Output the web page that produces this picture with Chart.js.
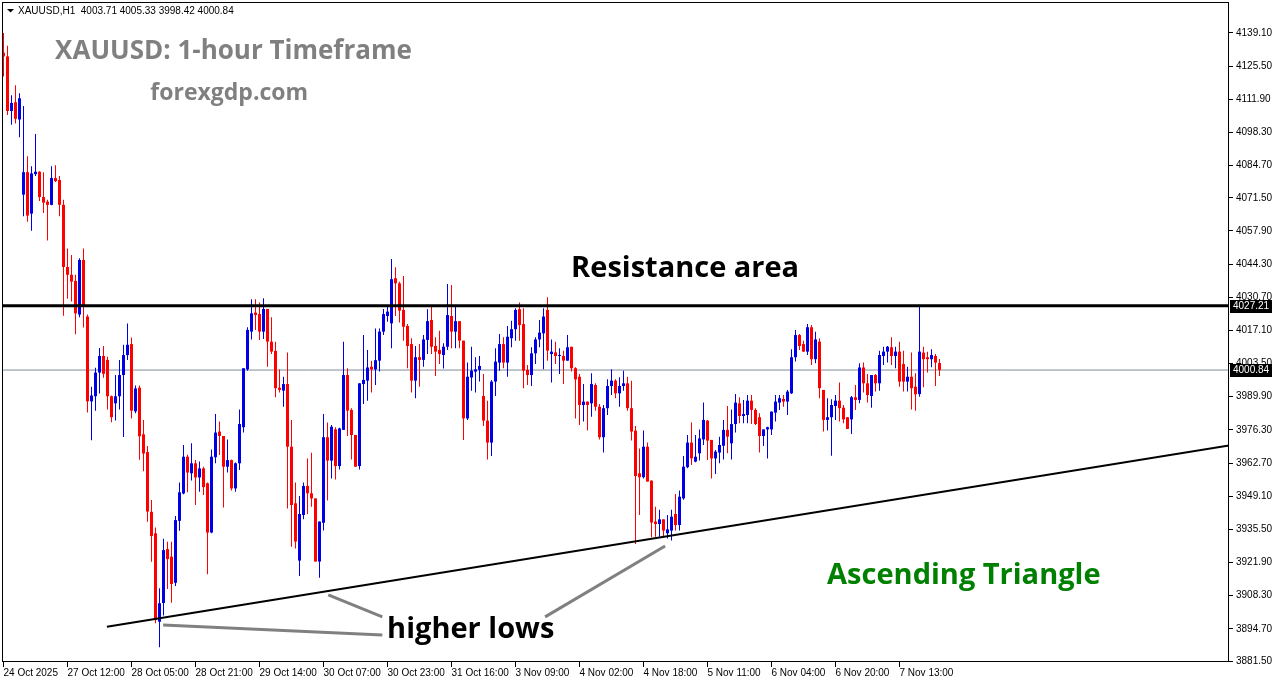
<!DOCTYPE html>
<html>
<head>
<meta charset="utf-8">
<title>XAUUSD H1 - Ascending Triangle</title>
<script src="https://cdn.jsdelivr.net/npm/chart.js@4.4.1/dist/chart.umd.min.js"></script>
<style>
  html, body { margin: 0; padding: 0; background: #fff; }
  canvas { display: block; }
</style>
</head>
<body>
<canvas id="chart" width="1276" height="684"></canvas>
<script>
const symbol = "XAUUSD,H1";

// hourly candles
const opens = [
  4131.0, 4129.5, 4107.1, 4110.7, 4103.6, 4072.8, 4082.0, 4065.0, 4081.2, 4082.2,
  4071.8, 4069.9, 4068.6, 4079.6, 4078.8, 4068.6, 4043.1, 4039.9, 4037.4, 4023.6,
  4046.0, 4022.8, 3988.0, 3990.1, 3999.8, 4006.6, 4005.0, 3990.1, 3987.2, 3990.1,
  3998.8, 4007.0, 4011.5, 3983.9, 3993.6, 3974.5, 3967.2, 3942.7, 3933.9, 3897.6,
  3905.3, 3927.4, 3924.3, 3913.6, 3939.0, 3950.2, 3965.3, 3958.5, 3962.6, 3956.8,
  3960.5, 3954.4, 3934.2, 3965.1, 3975.6, 3973.8, 3961.2, 3963.9, 3952.3, 3962.6,
  3977.4, 4001.1, 4016.6, 4024.4, 4023.8, 4016.6, 4025.9, 4012.5, 4008.7, 3993.6,
  3992.4, 3995.1, 3969.4, 3946.2, 3922.7, 3941.4, 3953.3, 3950.3, 3948.2, 3922.3,
  3938.2, 3973.3, 3963.7, 3976.5, 3961.5, 3976.3, 3998.8, 3984.5, 3974.2, 3961.5,
  3995.1, 3996.5, 4002.2, 4001.1, 4004.7, 4016.6, 4023.0, 4020.0, 4038.5, 4036.4,
  4025.5, 4018.9, 4011.5, 3996.5, 4006.1, 4005.0, 4013.2, 4021.4, 4010.7, 4009.1,
  4007.0, 4010.4, 4023.0, 4016.6, 4020.9, 4012.9, 3981.0, 3997.8, 4000.2, 4000.9,
  3990.2, 3980.1, 3971.1, 3996.1, 4003.9, 4011.5, 4003.9, 4013.9, 4017.6, 4025.8,
  4019.7, 4000.9, 3998.8, 4007.7, 4013.4, 4015.9, 4025.5, 4007.4, 4008.1, 4006.6,
  4006.6, 4004.7, 4010.4, 4001.6, 3998.1, 3986.5, 3987.9, 3987.2, 3994.7, 3985.8,
  3973.3, 3985.2, 3994.3, 3996.5, 3991.3, 3994.3, 3995.4, 3985.2, 3976.0, 3958.5,
  3956.9, 3969.4, 3955.5, 3938.7, 3937.7, 3939.6, 3933.9, 3935.0, 3941.8, 3937.3,
  3948.2, 3961.0, 3971.1, 3963.3, 3966.7, 3972.4, 3980.1, 3972.2, 3964.6, 3967.0,
  3969.8, 3976.3, 3970.8, 3978.7, 3987.2, 3982.0, 3982.4, 3988.3, 3984.5, 3981.5,
  3973.8, 3976.5, 3976.5, 3983.4, 3987.5, 3989.0, 3987.9, 3991.3, 4006.1, 4015.2,
  4011.5, 4008.4, 4018.4, 4005.3, 4012.5, 3992.7, 3980.4, 3981.5, 3986.1, 3988.3,
  3985.4, 3981.5, 3980.6, 3989.7, 3988.6, 4001.9, 3995.4, 3990.2, 3998.8, 3995.4,
  4006.6, 4008.4, 4010.2, 4006.6, 4008.4, 4003.3, 3996.1, 3998.1, 3994.0, 3991.0,
  4008.0, 4006.1, 4005.3, 4006.6, 4003.71
];
const highs = [
  4139.1, 4133.9, 4113.6, 4117.7, 4114.4, 4109.1, 4088.5, 4084.4, 4097.7, 4082.4,
  4082.0, 4070.7, 4084.4, 4084.8, 4080.4, 4070.7, 4050.7, 4048.0, 4039.9, 4046.7,
  4050.7, 4023.6, 3994.0, 4001.8, 4009.9, 4010.7, 4006.3, 3990.4, 3998.8, 4005.0,
  4011.2, 4019.9, 4014.2, 3994.5, 3994.5, 3980.4, 3969.7, 3947.5, 3936.3, 3911.3,
  3931.6, 3930.4, 3930.4, 3941.0, 3954.7, 3970.1, 3966.1, 3970.8, 3964.0, 3963.3,
  3961.2, 3954.7, 3968.3, 3982.8, 3979.7, 3973.8, 3972.4, 3964.2, 3962.9, 3984.7,
  4001.6, 4018.4, 4029.9, 4029.9, 4028.6, 4030.3, 4025.9, 4022.5, 4012.5, 4001.1,
  3998.1, 4008.0, 3980.4, 3954.7, 3949.2, 3954.7, 3964.6, 3966.9, 3948.2, 3938.7,
  3982.8, 3979.3, 3978.3, 3977.4, 3977.2, 4012.5, 4001.6, 3985.2, 3974.2, 3995.4,
  4015.2, 4009.1, 4004.7, 4017.9, 4017.9, 4025.9, 4026.8, 4046.4, 4043.0, 4037.1,
  4039.4, 4019.7, 4013.9, 4010.7, 4011.5, 4015.2, 4025.8, 4026.9, 4014.3, 4017.0,
  4011.8, 4036.1, 4035.7, 4026.9, 4020.9, 4012.9, 4003.9, 4010.4, 4006.1, 4006.6,
  3999.2, 3988.3, 3996.8, 4009.8, 4015.6, 4014.3, 4018.9, 4021.1, 4026.2, 4028.5,
  4026.2, 4002.9, 4010.2, 4014.3, 4021.4, 4026.2, 4030.7, 4013.4, 4012.5, 4009.8,
  4008.8, 4015.2, 4010.4, 4002.0, 3999.2, 3995.1, 3987.9, 3999.5, 3995.4, 3986.9,
  3986.5, 3997.1, 4001.2, 3997.1, 3997.9, 4000.6, 3998.1, 3996.5, 3977.9, 3968.7,
  3976.0, 3971.1, 3955.5, 3944.8, 3943.5, 3939.6, 3941.4, 3943.5, 3950.0, 3951.4,
  3965.6, 3974.2, 3979.3, 3974.2, 3976.5, 3987.5, 3980.4, 3972.2, 3968.1, 3973.5,
  3980.4, 3986.1, 3984.7, 3991.0, 3989.7, 3988.6, 3990.6, 3990.6, 3985.2, 3983.1,
  3976.5, 3977.6, 3983.8, 3990.6, 3990.6, 3990.6, 3992.7, 4009.4, 4017.3, 4015.6,
  4012.9, 4019.7, 4019.3, 4016.6, 4013.9, 3992.7, 3989.3, 3988.9, 3990.6, 3995.7,
  3986.5, 3981.5, 3990.2, 3994.7, 4003.6, 4003.9, 3999.2, 3998.8, 3999.2, 4008.8,
  4010.4, 4010.7, 4014.3, 4010.4, 4012.5, 4008.8, 4002.2, 4008.0, 3999.5, 4027.1,
  4010.4, 4008.4, 4009.4, 4007.4, 4005.33
];
const lows = [
  4121.2, 4105.5, 4101.5, 4102.0, 4096.3, 4063.9, 4061.7, 4058.0, 4080.4, 4070.2,
  4065.3, 4054.0, 4068.4, 4078.0, 4063.9, 4023.1, 4030.1, 4029.0, 4015.5, 4022.5,
  4018.3, 3983.4, 3972.1, 3984.2, 3991.2, 3997.7, 3984.7, 3979.4, 3980.2, 3984.7,
  3973.4, 4005.0, 3981.0, 3983.1, 3964.1, 3959.3, 3938.6, 3922.2, 3897.0, 3887.1,
  3900.2, 3911.0, 3905.4, 3912.3, 3934.9, 3949.9, 3950.7, 3955.5, 3945.5, 3950.9,
  3949.6, 3917.1, 3933.9, 3962.6, 3966.0, 3944.5, 3958.8, 3951.4, 3950.9, 3959.9,
  3975.2, 4000.6, 4013.4, 4017.3, 4013.2, 4013.6, 4002.2, 4007.4, 3989.7, 3991.6,
  3985.8, 3944.1, 3928.4, 3927.7, 3916.4, 3939.6, 3941.8, 3944.8, 3922.3, 3915.7,
  3935.0, 3947.3, 3956.4, 3956.0, 3960.1, 3976.3, 3973.8, 3964.2, 3961.2, 3960.1,
  3986.9, 3988.3, 3991.6, 3994.7, 4000.2, 4015.2, 4020.7, 4009.8, 4023.0, 4020.3,
  4012.9, 4001.6, 3991.6, 3989.3, 3994.0, 4002.2, 4007.4, 4007.4, 3998.4, 4003.3,
  4001.5, 4009.1, 4009.8, 4009.8, 4009.8, 3972.2, 3980.4, 3992.4, 3991.6, 3996.1,
  3977.9, 3964.2, 3965.6, 3990.2, 4000.6, 4001.6, 3998.1, 4010.2, 4012.9, 4012.9,
  3993.4, 3994.7, 3994.3, 4003.3, 4010.2, 4001.2, 4004.7, 3995.7, 4003.3, 3999.2,
  3995.1, 4004.7, 4000.2, 3981.0, 3978.3, 3979.7, 3976.0, 3981.7, 3984.2, 3972.4,
  3967.0, 3982.4, 3990.6, 3989.3, 3985.8, 3992.4, 3984.2, 3971.9, 3929.5, 3941.4,
  3956.4, 3955.1, 3932.3, 3932.5, 3932.5, 3932.3, 3931.8, 3930.9, 3935.0, 3935.0,
  3947.6, 3960.6, 3961.9, 3963.0, 3963.7, 3970.1, 3964.0, 3956.4, 3958.2, 3962.6,
  3964.2, 3966.7, 3964.2, 3975.2, 3979.0, 3979.0, 3979.0, 3978.7, 3978.3, 3967.0,
  3969.7, 3964.6, 3974.2, 3979.7, 3984.5, 3985.8, 3982.4, 3991.0, 4004.3, 4009.1,
  4008.4, 4007.0, 4002.9, 4003.6, 3989.3, 3975.6, 3976.0, 3965.7, 3980.4, 3979.7,
  3979.0, 3976.7, 3974.6, 3984.5, 3987.2, 3991.6, 3987.5, 3985.4, 3992.0, 3992.4,
  4002.9, 4003.9, 4002.9, 4001.6, 3994.0, 3992.0, 3992.0, 3984.7, 3984.2, 3989.9,
  3993.8, 3999.8, 4002.0, 3994.3, 3998.42
];
const closes = [
  4129.5, 4107.1, 4110.4, 4103.9, 4112.3, 4082.0, 4064.2, 4081.5, 4082.2, 4071.8,
  4069.5, 4068.6, 4079.6, 4078.3, 4068.6, 4043.1, 4039.9, 4037.1, 4024.1, 4046.0,
  4027.4, 3988.0, 3990.4, 3999.8, 4006.6, 3999.3, 3990.1, 3981.5, 3990.1, 3998.8,
  4007.0, 4011.2, 3984.2, 3993.3, 3973.7, 3966.6, 3942.8, 3932.8, 3898.3, 3905.2,
  3927.0, 3923.3, 3913.1, 3939.3, 3950.7, 3965.3, 3958.8, 3962.6, 3956.8, 3960.5,
  3952.8, 3934.2, 3965.3, 3975.2, 3973.8, 3961.2, 3963.9, 3952.3, 3962.6, 3978.7,
  4001.6, 4017.3, 4024.1, 4023.4, 4016.6, 4025.9, 4012.5, 4008.4, 3993.4, 3992.7,
  3995.1, 3969.4, 3945.5, 3930.5, 3941.8, 3953.3, 3950.3, 3948.2, 3922.3, 3938.7,
  3973.3, 3963.7, 3977.6, 3961.5, 3976.9, 3998.8, 3984.2, 3974.2, 3961.2, 3995.4,
  3996.8, 4001.9, 4001.1, 4004.9, 4016.6, 4023.8, 4024.8, 4038.1, 4036.4, 4025.2,
  4018.6, 4010.7, 3996.5, 4006.1, 4005.0, 4013.4, 4020.9, 4010.4, 4008.4, 4007.4,
  4010.4, 4023.4, 4016.6, 4020.9, 4012.9, 3981.0, 3998.1, 4000.6, 4001.1, 4002.5,
  3980.1, 3971.1, 3996.1, 4004.3, 4011.5, 4003.9, 4014.5, 4017.6, 4025.5, 4019.3,
  4000.6, 3998.8, 4007.7, 4013.4, 4016.2, 4022.8, 4008.8, 4008.4, 4006.6, 4006.8,
  4004.7, 4010.2, 4001.6, 3997.0, 3986.5, 3987.9, 3986.5, 3995.1, 3985.8, 3973.3,
  3985.2, 3994.3, 3996.5, 3991.3, 3994.3, 3995.4, 3985.2, 3975.6, 3957.4, 3956.9,
  3969.4, 3955.1, 3938.3, 3937.7, 3939.6, 3935.0, 3935.5, 3940.7, 3937.3, 3948.9,
  3961.2, 3971.1, 3964.6, 3965.3, 3972.8, 3980.4, 3971.9, 3964.6, 3967.4, 3970.1,
  3976.3, 3973.5, 3978.7, 3987.5, 3982.0, 3982.8, 3988.3, 3984.5, 3978.7, 3973.8,
  3976.5, 3977.4, 3983.8, 3987.9, 3989.3, 3987.9, 3992.0, 4006.1, 4015.2, 4010.7,
  4008.4, 4018.4, 4005.3, 4013.4, 3993.4, 3980.4, 3981.5, 3986.5, 3988.3, 3985.2,
  3980.6, 3976.7, 3989.7, 3988.6, 4001.9, 3995.4, 3990.6, 3998.8, 3995.4, 4007.0,
  4008.4, 4010.4, 4006.6, 4008.4, 3996.1, 3996.1, 3998.1, 3993.4, 3990.9, 4008.4,
  4005.3, 4005.3, 4007.0, 4003.9, 4000.84
];

// time axis: a label every 16 bars
const xTickBars = [0, 16, 32, 48, 64, 80, 96, 112, 128, 144, 160, 176, 192, 208, 224];
const xLabels = [
  "24 Oct 2025", "27 Oct 12:00", "28 Oct 05:00", "28 Oct 21:00", "29 Oct 14:00",
  "30 Oct 07:00", "30 Oct 23:00", "31 Oct 16:00", "3 Nov 09:00", "4 Nov 02:00",
  "4 Nov 18:00", "5 Nov 11:00", "6 Nov 04:00", "6 Nov 20:00", "7 Nov 13:00"
];

const yTickLabels = [
  "4139.10", "4125.50", "4111.90", "4098.30", "4084.70", "4071.50", "4057.90",
  "4044.30", "4030.70", "4017.10", "4003.50", "3989.90", "3976.30", "3962.70",
  "3949.10", "3935.50", "3921.90", "3908.30", "3894.70", "3881.50"
];

const resistanceLevel = 4027.21;
const lastPrice = closes[closes.length - 1];

// [bar, price] pairs
const trendLine = [[25.85, 3895.6], [306.375, 3969.9]];
const pointerLines = [
  [[39.9, 3896.3], [94.7, 3892.2]],
  [[81.2, 3908.6], [94.7, 3899.6]],
  [[135.4, 3899.6], [165.4, 3928.7]]
];

const X_MIN = -0.375, X_MAX = 306.375;
const Y_MIN = 3881.1, Y_MAX = 4151.8;

const BULL = "#0000e6";
const BEAR = "#ff0000";
const SMALL_FONT = "'Liberation Sans', Arial, sans-serif";

const bars = opens.map((o, i) => i);
const candleColors = bars.map(i => closes[i] >= opens[i] ? BULL : BEAR);

const notes = [
  { text: "XAUUSD: 1-hour Timeframe", bar: 12.9, price: 4128.6, color: "#808080", size: 26 },
  { text: "forexgdp.com", bar: 36.7, price: 4111.6, color: "#808080", size: 23 },
  { text: "Resistance area", bar: 141.9, price: 4039.0, color: "#000000", size: 29 },
  { text: "Ascending Triangle", bar: 205.9, price: 3912.9, color: "#008000", size: 29 },
  { text: "higher lows", bar: 95.9, price: 3891.0, color: "#000000", size: 29 }
];

const toPoints = pts => pts.map(p => ({ x: p[0], y: p[1] }));

const overlay = {
  id: "overlay",
  afterDatasetsDraw(chart) {
    const ctx = chart.ctx;
    const xs = chart.scales.x, ys = chart.scales.y;
    ctx.save();
    ctx.textBaseline = "alphabetic";
    ctx.textAlign = "left";
    notes.forEach(n => {
      ctx.font = "bold " + n.size + "px 'Open Sans', sans-serif";
      ctx.fillStyle = n.color;
      ctx.fillText(n.text, xs.getPixelForValue(n.bar), ys.getPixelForValue(n.price));
    });
    ctx.restore();
  },
  afterDraw(chart) {
    const ctx = chart.ctx;
    const a = chart.chartArea;
    const ys = chart.scales.y;
    ctx.save();

    // frame round the plot
    ctx.strokeStyle = "#000";
    ctx.lineWidth = 1;
    ctx.strokeRect(a.left + 0.5, a.top + 0.5, a.right - a.left - 1, a.bottom - a.top - 1);

    // header with last bar's OHLC
    ctx.fillStyle = "#000";
    ctx.beginPath();
    ctx.moveTo(7, 9); ctx.lineTo(14, 9); ctx.lineTo(10.5, 12.5); ctx.closePath();
    ctx.fill();
    const n = closes.length - 1;
    const head = symbol + "  " + [opens[n], highs[n], lows[n], closes[n]].map(v => v.toFixed(2)).join(" ");
    ctx.font = "10px " + SMALL_FONT;
    ctx.textBaseline = "alphabetic";
    ctx.fillText(head, 18, 14);

    // price tags on the axis
    [resistanceLevel, lastPrice].forEach(v => {
      const y = Math.round(ys.getPixelForValue(v));
      ctx.fillStyle = "#000";
      ctx.fillRect(a.right + 1, y - 6, 42, 13);
      ctx.fillStyle = "#fff";
      ctx.textBaseline = "middle";
      ctx.fillText(v.toFixed(2), a.right + 4, y + 0.5);
    });
    ctx.restore();
  }
};

Chart.defaults.font.family = SMALL_FONT;
Chart.defaults.font.size = 10;
Chart.defaults.color = "#000";

new Chart(document.getElementById("chart"), {
  type: "bar",
  data: {
    datasets: [
      {
        type: "line",
        data: toPoints([[X_MIN, lastPrice], [X_MAX, lastPrice]]),
        borderColor: "#7f8c99",
        borderWidth: 1,
        pointRadius: 0,
        order: 10
      },
      {
        label: "wicks",
        data: bars.map(i => ({ x: i, y: [lows[i], highs[i]] })),
        backgroundColor: candleColors,
        barThickness: 1,
        grouped: false,
        inflateAmount: 0,
        order: 6
      },
      {
        label: "bodies",
        data: bars.map(i => ({ x: i, y: [opens[i], closes[i]] })),
        backgroundColor: candleColors,
        barThickness: 3,
        minBarLength: 1,
        grouped: false,
        inflateAmount: 0,
        order: 5
      },
      {
        type: "line",
        data: toPoints([[X_MIN, resistanceLevel], [X_MAX, resistanceLevel]]),
        borderColor: "#000",
        borderWidth: 3,
        pointRadius: 0,
        order: 1
      },
      {
        type: "line",
        data: toPoints(trendLine),
        borderColor: "#000",
        borderWidth: 2,
        pointRadius: 0,
        order: 1
      },
      ...pointerLines.map(seg => ({
        type: "line",
        data: toPoints(seg),
        borderColor: "#808080",
        borderWidth: 3,
        pointRadius: 0,
        order: 2
      }))
    ]
  },
  options: {
    responsive: false,
    devicePixelRatio: 1,
    animation: false,
    events: [],
    layout: { padding: { top: 2, left: 2, right: 0, bottom: 0 } },
    plugins: {
      legend: { display: false },
      tooltip: { enabled: false }
    },
    scales: {
      x: {
        type: "linear",
        min: X_MIN,
        max: X_MAX,
        bounds: "data",
        offset: false,
        position: "bottom",
        afterBuildTicks: scale => { scale.ticks = xTickBars.map(v => ({ value: v })); },
        afterFit: scale => {
          scale.height = 22;
          scale.paddingLeft = 0;
          scale.paddingRight = 0;
        },
        grid: { offset: false, drawOnChartArea: false, drawTicks: true, tickLength: 5, color: "#000" },
        border: { display: false },
        ticks: {
          autoSkip: false,
          maxRotation: 0,
          align: "start",
          padding: 0,
          callback: v => {
            const k = xTickBars.indexOf(v);
            return k >= 0 ? xLabels[k] : "";
          }
        }
      },
      y: {
        type: "linear",
        position: "right",
        min: Y_MIN,
        max: Y_MAX,
        bounds: "data",
        beginAtZero: false,
        afterBuildTicks: scale => { scale.ticks = yTickLabels.map(s => ({ value: parseFloat(s) })); },
        afterFit: scale => {
          scale.width = 47;
          scale.paddingTop = 0;
          scale.paddingBottom = 0;
        },
        grid: { drawOnChartArea: false, drawTicks: true, tickLength: 4, color: "#000" },
        border: { display: false },
        ticks: {
          padding: 3,
          callback: v => {
            const k = yTickLabels.findIndex(s => parseFloat(s) === v);
            return k >= 0 ? yTickLabels[k] : "";
          }
        }
      }
    }
  },
  plugins: [overlay]
});
</script>
</body>
</html>
